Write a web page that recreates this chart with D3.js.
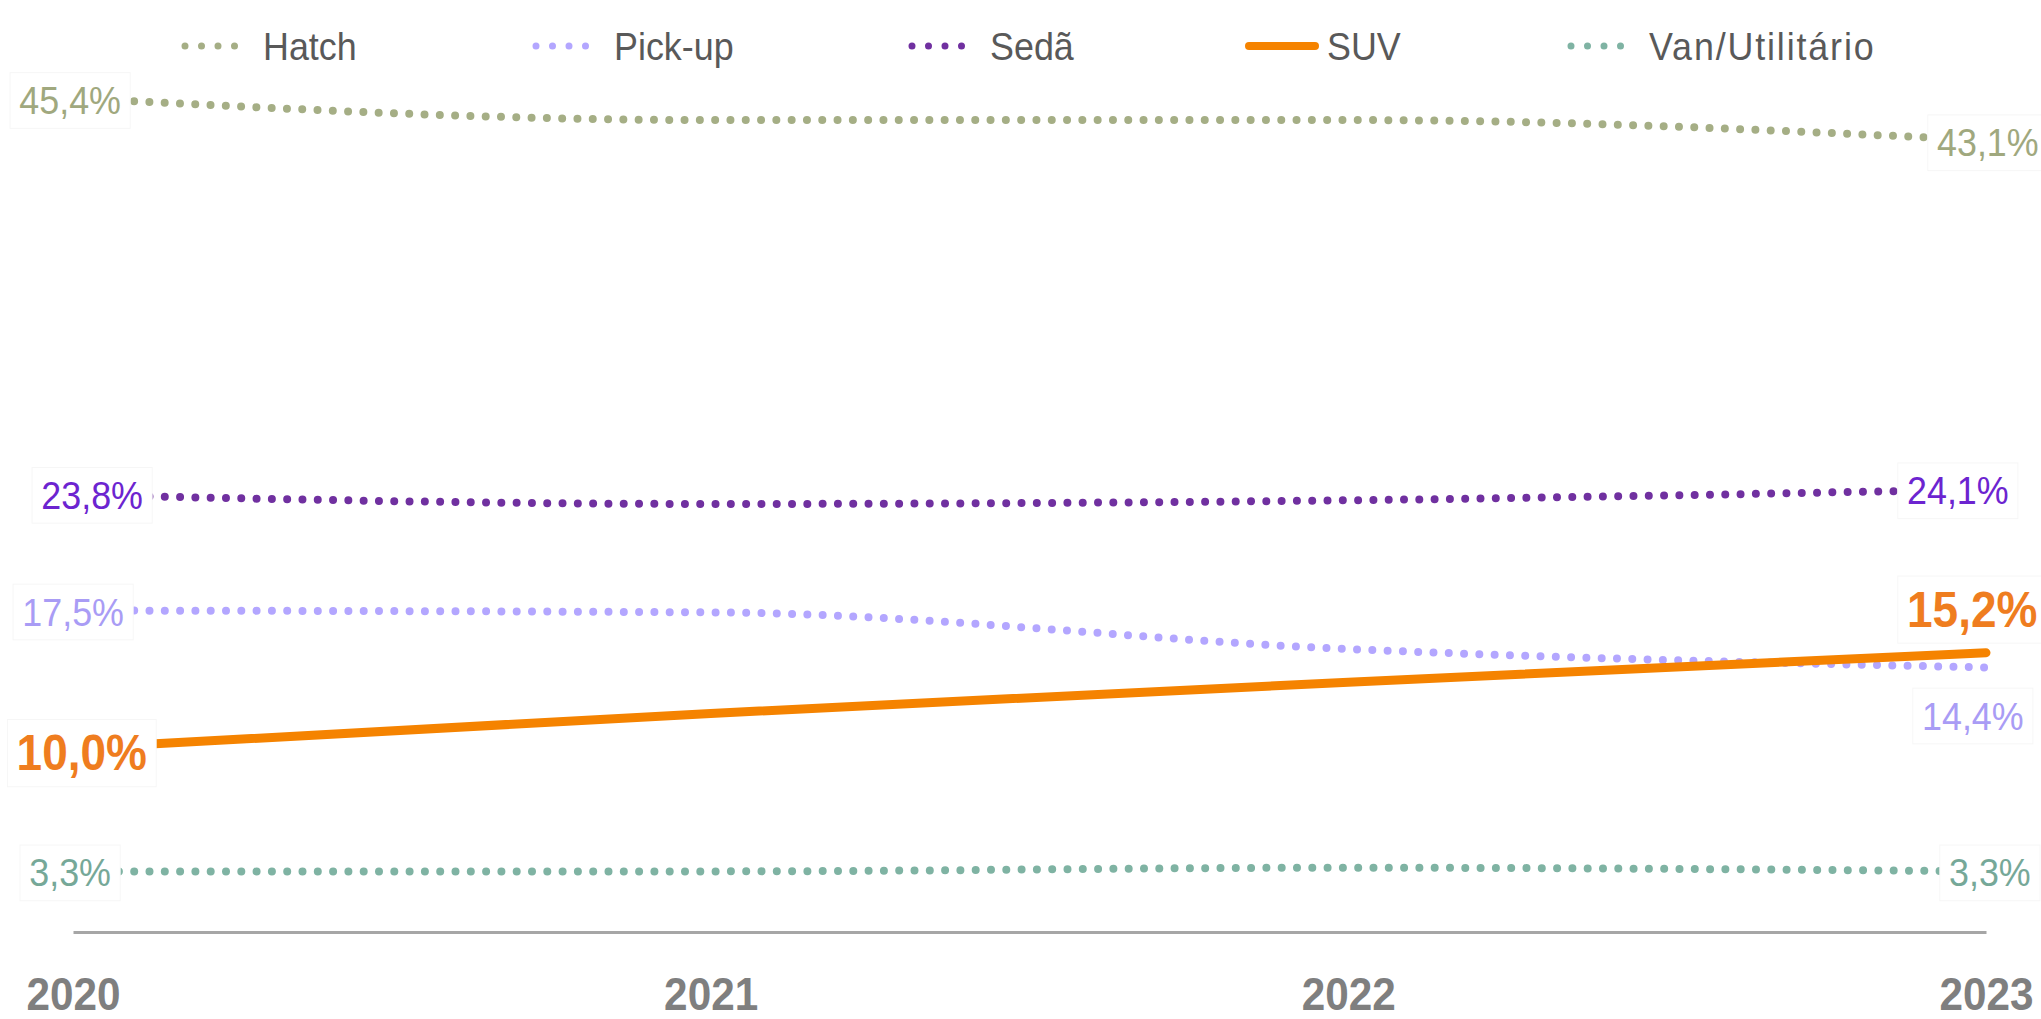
<!DOCTYPE html>
<html>
<head>
<meta charset="utf-8">
<script src="https://cdn.jsdelivr.net/npm/d3@7"></script>
<style>
  body { margin: 0; background: #fff; }
  svg { display: block; font-family: "Liberation Sans", Arial, sans-serif; }
</style>
</head>
<body>
<svg class="chart"></svg>
<script>
// data
var years = ["2020", "2021", "2022", "2023"]
var hatch  = [45.4, 44.2, 44.2, 43.1]
var pickup = [17.5, 17.4, 15.4, 14.4]
var seda   = [23.8, 23.3, 23.5, 24.1]
var suv    = [10.0, 11.9, 13.6, 15.2]
var van    = [3.3, 3.3, 3.5, 3.3]
var names  = ["Hatch", "Pick-up", "Sedã", "SUV", "Van/Utilitário"]

var width = 2041, height = 1019
var narrow = 0.92   // squeeze text like a narrow font

var series = [
  {name: names[0], values: hatch,  line: "#a5ae85", text: "#a0a87e", dotted: true,
   left: {x: 121, dy: 2},  right: {x: 1937, dy: 2}},
  {name: names[1], values: pickup, line: "#b3a6ff", text: "#a99cf5", dotted: true,
   left: {x: 124, dy: 1},  right: {x: 1922, dy: 48}},
  {name: names[2], values: seda,   line: "#7030a0", text: "#6c24d0", dotted: true,
   left: {x: 143, dy: 0},  right: {x: 1907, dy: 1}},
  {name: names[3], values: suv,    line: "#f58300", text: "#ef7d1f", dotted: false, bold: true,
   left: {x: 147, dy: 4},  right: {x: 1907, dy: -44}},
  {name: names[4], values: van,    line: "#7fb3a3", text: "#76a898", dotted: true,
   left: {x: 111, dy: 1},  right: {x: 1949, dy: 1}}
]

// legend item x positions (marker start)
var legendX = [185, 536, 912, 1249, 1571]

var svg = d3.select(".chart").attr("width", width).attr("height", height)

var x = d3.scalePoint().domain(years).range([73, 1986])
var y = d3.scaleLinear().domain([0, 45.4]).range([932, 98])

var line = d3.line()
  .x(function(d, i) { return x(years[i]) })
  .y(function(d) { return y(d) })
  .curve(d3.curveMonotoneX)

// axis
var axis = svg.append("g")
  .attr("transform", "translate(0," + y(0) + ")")
  .call(d3.axisBottom(x).tickSize(0).tickPadding(45))
axis.select(".domain").attr("stroke", "#a6a6a6").attr("stroke-width", 3)
axis.selectAll("text")
  .attr("fill", "#7f7f7f")
  .attr("transform", "scale(" + narrow + ",1)")
  .style("font-size", "46px")
  .style("font-weight", "bold")
  .style("font-family", "'Liberation Sans', Arial, sans-serif")

// lines
series.forEach(function(s) {
  var p = svg.append("path")
    .attr("d", line(s.values))
    .attr("fill", "none")
    .attr("stroke", s.line)
    .attr("stroke-linecap", "round")
  if (s.dotted) {
    p.attr("stroke-width", 8).attr("stroke-dasharray", "0,15.3")
  } else {
    p.attr("stroke-width", 9)
  }
})

// data labels with white boxes
function addLabel(s, value, px, anchor, dy) {
  var g = svg.append("g")
    .attr("transform", "translate(" + px + "," + (y(value) + dy) + ") scale(" + narrow + ",1)")
  var t = g.append("text")
    .attr("dy", "0.36em")
    .attr("text-anchor", anchor)
    .attr("fill", s.text)
    .style("font-size", s.bold ? "50px" : "39px")
    .style("font-weight", s.bold ? "bold" : "normal")
    .text(value.toFixed(1).replace(".", ",") + "%")
  var b = t.node().getBBox()
  g.insert("rect", "text")
    .attr("x", b.x - 10).attr("y", b.y - 6)
    .attr("width", b.width + 20).attr("height", b.height + 12)
    .attr("fill", "#fff")
    .attr("stroke", "#f6f6f6")
}

series.forEach(function(s) {
  var n = s.values.length
  addLabel(s, s.values[0], s.left.x, "end", s.left.dy)
  addLabel(s, s.values[n - 1], s.right.x, "start", s.right.dy)
})

// legend
var legend = svg.append("g").attr("transform", "translate(0,46)")
series.forEach(function(s, i) {
  var lx = legendX[i]
  var m = legend.append("line")
    .attr("x1", lx).attr("x2", lx + 66)
    .attr("y1", 0).attr("y2", 0)
    .attr("stroke", s.line)
    .attr("stroke-linecap", "round")
  if (s.dotted) {
    m.attr("stroke-width", 7).attr("stroke-dasharray", "0,16.5")
  } else {
    m.attr("stroke-width", 8)
  }
  legend.append("text")
    .attr("transform", "translate(" + (lx + 78) + ",0) scale(" + narrow + ",1)")
    .attr("dy", "0.36em")
    .attr("fill", "#595959")
    .style("font-size", "39px")
    .style("letter-spacing", s.name.length > 10 ? "2px" : null)
    .text(s.name)
})
</script>
</body>
</html>
